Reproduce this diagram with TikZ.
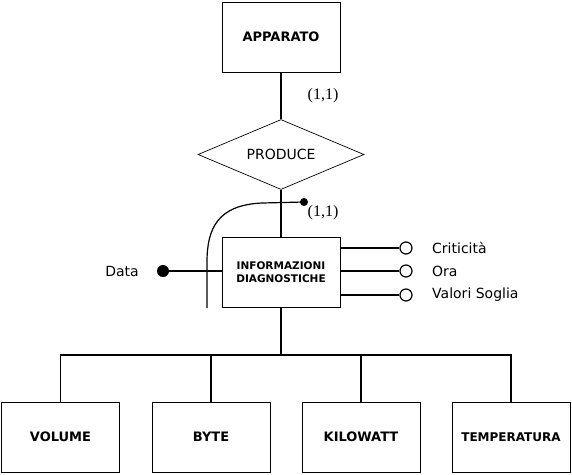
\documentclass[tikz,border=0pt]{standalone}
\usepackage{fontspec}
\setmainfont{DejaVu Sans}
\newfontfamily\cardfont{Liberation Serif}
\usetikzlibrary{shapes.geometric,calc}
\tikzset{
	entity/.style={draw, line width=0.9pt, minimum width=118pt, minimum height=70pt, inner sep=0pt,
			font=\bfseries\fontsize{13}{15}\selectfont},
	relation/.style={draw, diamond, aspect=2.37, line width=0.7pt, minimum width=166pt, minimum height=70pt,
			inner sep=0pt, font=\fontsize{14}{16}\selectfont},
	link/.style={line width=1.2pt},
	attr/.style={draw, circle, fill=white, line width=1.2pt, minimum size=12pt, inner sep=0pt},
	keyattr/.style={circle, fill=black, minimum size=#1, inner sep=0pt},
	label/.style={font=\fontsize{14}{16}\selectfont, inner sep=0pt},
	card/.style={font=\cardfont\fontsize{16}{18}\selectfont, inner sep=0pt}
}
\begin{document}
\begin{tikzpicture}[x=1pt, y=-1pt]
		\useasboundingbox (0,0) rectangle (572,474);

		% Entita' principali e relazione
		\node[entity] (apparato) at (281,37) {APPARATO};
		\node[relation] (produce) at (281,154.5) {PRODUCE};
		\node[entity, font=\bfseries\fontsize{10.5}{13}\selectfont, align=center] (info) at (281,272)
		{INFORMAZIONI\\DIAGNOSTICHE};
		\draw[link] (apparato) -- (produce);
		\draw[link] (produce) -- (info);
		\node[card] (c1) at (323,96) {(1,1)};
		\node[card] (c2) at (323,213) {(1,1)};

		% Identificatore esterno
		\node[keyattr=8pt] (extdot) at (304,202) {};
		\coordinate (extend) at (207,308);
		\draw[link] (extdot.center) -- (262,203) .. controls (218,205) and (207,228) .. (207,262) -- (extend);

		% Attributi
		\node[keyattr=12pt] (datadot) at (163,271) {};
		\node[label, anchor=east] (data) at (139,271) {Data};
		\draw[link] (datadot) -- (info.west |- datadot);

		\node[attr] (crit) at (406,248) {};
		\node[attr] (ora) at (406,271) {};
		\node[attr] (soglia) at (406,295) {};
		\draw[link] (info.east |- crit) -- (crit);
		\draw[link] (info.east |- ora) -- (ora);
		\draw[link] (info.east |- soglia) -- (soglia);
		\node[label, anchor=west] (tcrit) at (432,248) {Criticità};
		\node[label, anchor=west] (tora) at (432,271) {Ora};
		\node[label, anchor=west] (tsoglia) at (432,295) {Valori Soglia};

		% Generalizzazione
		\node[entity] (volume) at (60.5,437) {VOLUME};
		\node[entity] (byte) at (211,437) {BYTE};
		\node[entity] (kilowatt) at (361,437) {KILOWATT};
		\node[entity, font=\bfseries\fontsize{12}{15}\selectfont] (temperatura) at (511,437) {TEMPERATURA};
		\coordinate (fork) at (281,355);
		\draw[link] (info) -- (fork);
		\draw[link] (volume.north) |- (fork) -| (temperatura.north);
		\draw[link] (byte.north) -- (byte.north |- fork);
		\draw[link] (kilowatt.north) -- (kilowatt.north |- fork);
	\end{tikzpicture}
\end{document}
